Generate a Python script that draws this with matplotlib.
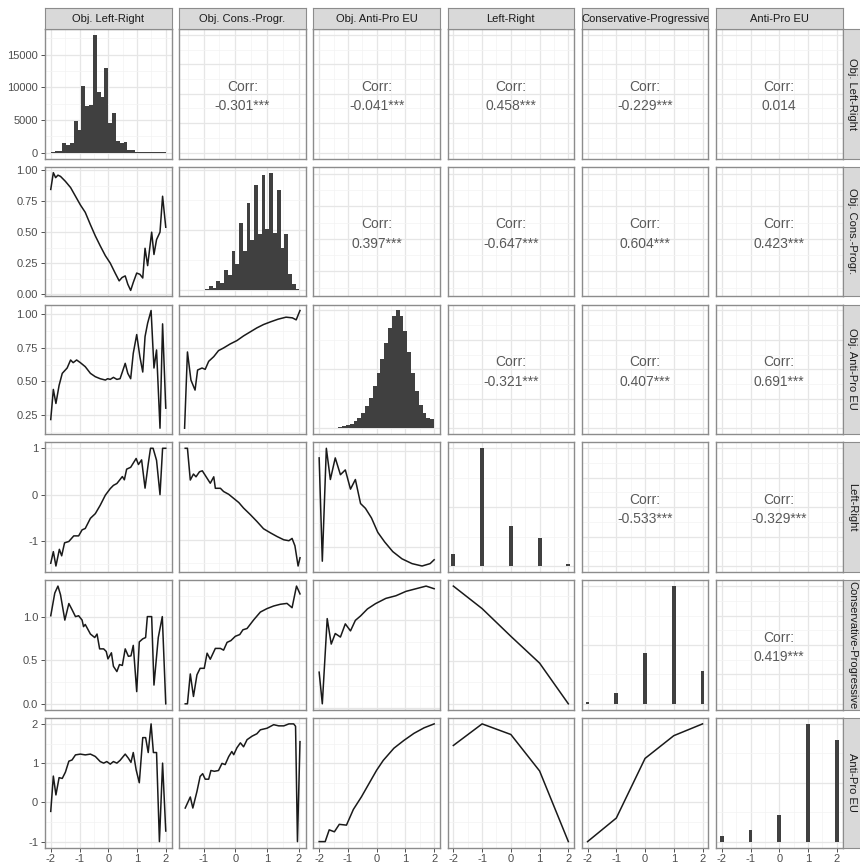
import numpy as np
import matplotlib.pyplot as plt
from matplotlib.ticker import AutoMinorLocator, MaxNLocator

plt.rcParams['font.family'] = ['Liberation Sans', 'DejaVu Sans']

variables = ['Obj. Left-Right', 'Obj. Cons.-Progr.', 'Obj. Anti-Pro EU',
             'Left-Right', 'Conservative-Progressive', 'Anti-Pro EU']

# upper triangle: correlation labels
corr_labels = {
    (0, 1): '-0.301***', (0, 2): '-0.041***', (0, 3): '0.458***', (0, 4): '-0.229***', (0, 5): '0.014',
    (1, 2): '0.397***', (1, 3): '-0.647***', (1, 4): '0.604***', (1, 5): '0.423***',
    (2, 3): '-0.321***', (2, 4): '0.407***', (2, 5): '0.691***',
    (3, 4): '-0.533***', (3, 5): '-0.329***',
    (4, 5): '0.419***',
}

# diagonal: histograms
obj_lr_counts = [100, 250, 300, 1400, 1100, 1500, 4800, 3500, 10200, 7100,
                 7300, 18000, 9200, 8500, 13000, 4500, 6000, 1800, 1400, 1600,
                 400, 350, 100, 100, 100, 100, 100, 100, 100, 100]
obj_cp_start, obj_cp_width = -1.25, 0.119
obj_cp_counts = [4, 4, 4, 10, 35, 20, 80, 60, 170, 130, 330, 220, 560, 330,
                 730, 420, 880, 470, 960, 510, 980, 480, 840, 350, 470, 140, 50, 10]
obj_eu_counts = [5, 3, 0, 3, 5, 10, 15, 25, 40, 60, 90, 130, 190, 260, 360,
                 470, 590, 720, 850, 950, 1000, 950, 830, 650, 470, 320, 200, 130, 90, 80]
levels = [-2, -1, 0, 1, 2]
lr_counts = [10, 100, 34, 24, 1.7]
cp_counts = [1.5, 9, 43, 100, 28]
eu_counts = [4.8, 9.9, 22.6, 100, 86]

# lower triangle: conditional mean lines
r2c1_x = [-2.0, -1.91, -1.83, -1.75, -1.66, -1.49, -1.31, -1.14, -0.97, -0.80, -0.62, -0.45, -0.28,
          -0.10, 0.07, 0.24, 0.38, 0.48, 0.59, 0.68, 0.78, 0.87, 0.99, 1.10, 1.20, 1.28, 1.37,
          1.51, 1.59, 1.68, 1.80, 1.89, 2.0]
r2c1_y = [0.845, 0.98, 0.94, 0.96, 0.95, 0.91, 0.86, 0.79, 0.72, 0.66, 0.56, 0.47, 0.39,
          0.31, 0.25, 0.17, 0.107, 0.134, 0.147, 0.08, 0.03, 0.094, 0.17, 0.16, 0.13, 0.37, 0.23,
          0.50, 0.32, 0.44, 0.50, 0.79, 0.54]

r3c1_x = [-2.0, -1.91, -1.82, -1.71, -1.60, -1.43, -1.31, -1.22, -1.10, -0.97, -0.80, -0.62,
          -0.45, -0.28, -0.10, -0.02, 0.07, 0.18, 0.30, 0.41, 0.49, 0.59, 0.68, 0.78, 0.87,
          0.99, 1.10, 1.20, 1.28, 1.37, 1.49, 1.59, 1.68, 1.80, 1.89, 2.0]
r3c1_y = [0.215, 0.44, 0.335, 0.47, 0.56, 0.60, 0.66, 0.64, 0.66, 0.64, 0.61, 0.56,
          0.535, 0.52, 0.51, 0.52, 0.515, 0.53, 0.515, 0.52, 0.57, 0.635, 0.56, 0.52, 0.71,
          0.85, 0.685, 0.57, 0.835, 0.935, 1.03, 0.6, 0.735, 0.15, 0.93, 0.30]

r4c1_x = [-2.0, -1.91, -1.82, -1.70, -1.62, -1.52, -1.37, -1.20, -1.03, -0.91, -0.80, -0.62,
          -0.45, -0.28, -0.10, 0.07, 0.18, 0.30, 0.39, 0.49, 0.56, 0.64, 0.78, 0.87, 0.97,
          1.05, 1.16, 1.28, 1.39, 1.47, 1.56, 1.68, 1.80, 1.89, 2.0]
r4c1_y = [-1.48, -1.23, -1.54, -1.18, -1.32, -1.04, -1.01, -0.89, -0.89, -0.76, -0.73, -0.51,
          -0.41, -0.23, -0.01, 0.13, 0.2, 0.24, 0.31, 0.39, 0.32, 0.55, 0.59, 0.68, 0.78,
          0.65, 0.75, 0.14, 0.66, 1.0, 1.0, 0.74, 0.0, 1.0, 1.0]

r5c1_x = [-2.0, -1.86, -1.75, -1.66, -1.51, -1.37, -1.26, -1.14, -1.03, -0.91, -0.86, -0.80,
          -0.62, -0.47, -0.39, -0.30, -0.16, -0.07, -0.01, 0.11, 0.18, 0.30, 0.39, 0.49, 0.59,
          0.70, 0.79, 0.87, 0.99, 1.08, 1.20, 1.30, 1.36, 1.51, 1.59, 1.74, 1.88, 2.0]
r5c1_y = [1.01, 1.27, 1.35, 1.25, 0.96, 1.15, 1.08, 1.0, 1.01, 0.96, 0.885, 0.91,
          0.80, 0.76, 0.80, 0.63, 0.63, 0.60, 0.515, 0.585, 0.43, 0.37, 0.45, 0.44, 0.63,
          0.545, 0.55, 0.67, 0.14, 0.71, 0.745, 0.76, 1.0, 1.0, 0.215, 0.76, 1.0, 0.0]

r6c1_x = [-2.0, -1.91, -1.82, -1.71, -1.60, -1.49, -1.37, -1.26, -1.14, -0.97, -0.80, -0.62,
          -0.45, -0.28, -0.16, -0.05, 0.07, 0.18, 0.30, 0.41, 0.59, 0.70, 0.79, 0.87, 0.97,
          1.08, 1.20, 1.30, 1.39, 1.49, 1.57, 1.68, 1.78, 1.89, 2.0]
r6c1_y = [-0.23, 0.67, 0.19, 0.63, 0.61, 0.77, 1.05, 1.08, 1.21, 1.23, 1.21, 1.23,
          1.17, 1.04, 1.0, 1.04, 0.975, 1.04, 1.0, 1.07, 1.23, 1.125, 1.02, 1.27, 0.83,
          0.5, 1.65, 1.65, 1.27, 2.0, 1.27, 1.27, -1.0, 1.0, -0.73]

r3c2_x = [-1.60, -1.51, -1.40, -1.27, -1.19, -1.05, -0.95, -0.84, -0.68, -0.53, -0.37, -0.16,
          0.05, 0.26, 0.47, 0.68, 0.89, 1.11, 1.35, 1.6, 1.8, 1.92, 2.04]
r3c2_y = [0.15, 0.72, 0.51, 0.435, 0.585, 0.60, 0.59, 0.65, 0.685, 0.73, 0.75, 0.78,
          0.805, 0.84, 0.87, 0.90, 0.925, 0.945, 0.965, 0.98, 0.975, 0.96, 1.03]

r4c2_x = [-1.58, -1.51, -1.42, -1.32, -1.24, -1.13, -1.04, -0.92, -0.79, -0.68, -0.63, -0.47,
          -0.37, -0.21, -0.05, 0.11, 0.26, 0.47, 0.68, 0.89, 1.11, 1.32, 1.53, 1.69, 1.79,
          1.88, 1.98, 2.04]
r4c2_y = [1.0, 1.0, 0.31, 0.44, 0.38, 0.49, 0.51, 0.38, 0.24, 0.38, 0.13, 0.13,
          0.06, 0.0, -0.09, -0.18, -0.30, -0.44, -0.59, -0.75, -0.84, -0.92, -0.99, -1.01, -0.96,
          -1.12, -1.56, -1.38]

r5c2_x = [-1.58, -1.51, -1.42, -1.32, -1.21, -1.11, -0.98, -0.89, -0.79, -0.63, -0.47, -0.37,
          -0.26, -0.14, 0.0, 0.14, 0.24, 0.37, 0.58, 0.79, 1.00, 1.21, 1.42, 1.63, 1.79,
          1.93, 2.04]
r5c2_y = [0.0, 0.0, 0.345, 0.085, 0.335, 0.41, 0.41, 0.585, 0.515, 0.64, 0.64, 0.62,
          0.71, 0.73, 0.78, 0.80, 0.855, 0.87, 0.97, 1.06, 1.10, 1.13, 1.15, 1.16, 1.11,
          1.36, 1.27]

r6c2_x = [-1.58, -1.42, -1.34, -1.21, -1.11, -1.03, -0.95, -0.84, -0.77, -0.66, -0.53, -0.42,
          -0.32, -0.21, -0.11, -0.05, 0.05, 0.16, 0.26, 0.37, 0.53, 0.68, 0.79, 1.0, 1.21,
          1.37, 1.53, 1.69, 1.84, 1.90, 1.96, 2.04]
r6c2_y = [-0.15, 0.13, -0.15, 0.27, 0.65, 0.72, 0.58, 0.58, 0.8, 0.78, 0.80, 0.98,
          0.95, 1.15, 1.28, 1.2, 1.375, 1.5, 1.4, 1.58, 1.67, 1.73, 1.83, 1.87, 1.96,
          1.93, 1.93, 1.98, 1.98, 1.92, -1.0, 1.53]

r4c3_x = [-2.0, -1.89, -1.75, -1.61, -1.44, -1.26, -1.09, -0.91, -0.74, -0.56, -0.39, -0.18,
          0.04, 0.28, 0.56, 0.88, 1.23, 1.58, 1.86, 2.0]
r4c3_y = [0.85, -1.3, 1.05, 0.4, 0.85, 0.5, 0.6, 0.2, 0.4, -0.1, -0.2, -0.4,
          -0.7, -0.9, -1.1, -1.25, -1.35, -1.4, -1.35, -1.27]

r5c3_x = [-2.0, -1.89, -1.72, -1.58, -1.44, -1.26, -1.09, -0.91, -0.74, -0.56, -0.32, -0.04,
          0.32, 0.67, 1.02, 1.37, 1.72, 2.0]
r5c3_y = [0.41, 0.05, 1.02, 0.73, 0.85, 0.81, 0.96, 0.88, 1.0, 1.05, 1.13, 1.19,
          1.25, 1.28, 1.33, 1.36, 1.39, 1.36]

r6c3_x = [-2.0, -1.79, -1.65, -1.47, -1.3, -1.05, -0.81, -0.53, -0.25, 0.0, 0.23, 0.6,
          0.95, 1.3, 1.65, 2.0]
r6c3_y = [-1.0, -1.0, -0.7, -0.75, -0.56, -0.58, -0.18, 0.14, 0.5, 0.82, 1.07, 1.38,
          1.58, 1.76, 1.9, 2.0]

r5c4_y = [1.36, 1.10, 0.78, 0.47, 0.0]
r6c4_y = [1.45, 2.0, 1.73, 0.8, -1.0]
r6c5_y = [-1.0, -0.4, 1.12, 1.7, 2.0]

lines = {
    (1, 0): (r2c1_x, r2c1_y), (2, 0): (r3c1_x, r3c1_y), (3, 0): (r4c1_x, r4c1_y),
    (4, 0): (r5c1_x, r5c1_y), (5, 0): (r6c1_x, r6c1_y),
    (2, 1): (r3c2_x, r3c2_y), (3, 1): (r4c2_x, r4c2_y), (4, 1): (r5c2_x, r5c2_y),
    (5, 1): (r6c2_x, r6c2_y),
    (3, 2): (r4c3_x, r4c3_y), (4, 2): (r5c3_x, r5c3_y), (5, 2): (r6c3_x, r6c3_y),
    (4, 3): (levels, r5c4_y), (5, 3): (levels, r6c4_y), (5, 4): (levels, r6c5_y),
}

col_xlim = [(-2.2, 2.2), (-1.77, 2.22), (-2.2, 2.2), (-2.2, 2.2), (-2.2, 2.2), (-2.2, 2.2)]
var_ticks = [[-2, -1, 0, 1, 2], [-1, 0, 1, 2], [-2, -1, 0, 1, 2],
             [-2, -1, 0, 1, 2], [-2, -1, 0, 1, 2], [-2, -1, 0, 1, 2]]
row_yticks = [([0, 5000, 10000, 15000], ['0', '5000', '10000', '15000']),
              ([0, 0.25, 0.5, 0.75, 1.0], ['0.00', '0.25', '0.50', '0.75', '1.00']),
              ([0.25, 0.5, 0.75, 1.0], ['0.25', '0.50', '0.75', '1.00']),
              ([-1, 0, 1], ['-1', '0', '1']),
              ([0.0, 0.5, 1.0], ['0.0', '0.5', '1.0']),
              ([-1, 0, 1, 2], ['-1', '0', '1', '2'])]

W, H = 860, 868
left0, col_pitch, pw = 45, 134.2, 126.5
top0, row_pitch, ph = 29, 137.8, 129.5
border = '#8c8c8c'
dark = '#404040'

fig = plt.figure(figsize=(W / 100, H / 100), dpi=100)


def rect(x0, y0, w, h):
    return [x0 / W, 1 - (y0 + h) / H, w / W, h / H]


def style(ax, i, j):
    for s in ax.spines.values():
        s.set_color(border)
        s.set_linewidth(1.0)
    ax.xaxis.set_minor_locator(AutoMinorLocator(2))
    ax.yaxis.set_minor_locator(AutoMinorLocator(2))
    ax.grid(which='major', color='#e6e6e6', lw=0.9)
    ax.grid(which='minor', color='#f3f3f3', lw=0.5)
    ax.set_axisbelow(True)
    ax.tick_params(which='both', length=0, labelleft=False, labelbottom=False)
    if j == 0:
        ax.tick_params(axis='y', which='major', length=3, width=0.6, color='#333333',
                       labelleft=True, labelsize=8, labelcolor='#4d4d4d', pad=2)
    if i == 5:
        ax.tick_params(axis='x', which='major', length=3, width=0.6, color='#333333',
                       labelbottom=True, labelsize=8, labelcolor='#4d4d4d', pad=1.5)


for i in range(6):
    for j in range(6):
        x0 = left0 + j * col_pitch
        y0 = top0 + i * row_pitch
        ax = fig.add_axes(rect(x0, y0, pw, ph))
        ax.set_xlim(col_xlim[j])
        ax.set_xticks(var_ticks[j])
        if i < j:
            ax.set_ylim(col_xlim[i])
            ax.set_yticks(var_ticks[i])
            ax.text(0.5, 0.48, 'Corr:\n' + corr_labels[(i, j)], transform=ax.transAxes,
                    ha='center', va='center', fontsize=10, color='#595959', linespacing=1.5)
        elif i == j:
            if i == 0:
                edges = np.linspace(-2, 2, len(obj_lr_counts) + 1)
                ax.bar(edges[:-1], obj_lr_counts, width=edges[1] - edges[0], align='edge',
                       color=dark, linewidth=0)
                top = max(obj_lr_counts)
            elif i == 1:
                centers = obj_cp_start + obj_cp_width * np.arange(len(obj_cp_counts))
                ax.bar(centers, obj_cp_counts, width=obj_cp_width, color=dark, linewidth=0)
                top = max(obj_cp_counts)
            elif i == 2:
                edges = np.linspace(-2, 2, len(obj_eu_counts) + 1)
                ax.bar(edges[:-1], obj_eu_counts, width=edges[1] - edges[0], align='edge',
                       color=dark, linewidth=0)
                top = max(obj_eu_counts)
            else:
                counts = [lr_counts, cp_counts, eu_counts][i - 3]
                ax.bar(levels, counts, width=0.135, color=dark, linewidth=0)
                top = max(counts)
            ax.set_ylim(-0.05 * top, 1.05 * top)
            if i == 0:
                ax.set_yticks(row_yticks[0][0])
                ax.set_yticklabels(row_yticks[0][1])
            else:
                ax.yaxis.set_major_locator(MaxNLocator(nbins=4, steps=[1, 2, 2.5, 5, 10]))
        else:
            xs, ys = lines[(i, j)]
            ax.plot(xs, ys, color='#1a1a1a', lw=1.1)
            ax.set_xlim(col_xlim[j])
            ax.margins(y=0.05)
            if j == 0:
                ax.set_yticks(row_yticks[i][0])
                ax.set_yticklabels(row_yticks[i][1])
            else:
                ax.yaxis.set_major_locator(MaxNLocator(nbins=4, steps=[1, 2, 2.5, 5, 10]))
        if i == 5:
            ax.set_xticklabels([str(t) for t in var_ticks[j]])
        style(ax, i, j)

# strips
for j in range(6):
    x0 = left0 + j * col_pitch
    sax = fig.add_axes(rect(x0, 8, pw, 21))
    sax.set_facecolor('#d9d9d9')
    sax.set_xticks([]); sax.set_yticks([])
    for s in sax.spines.values():
        s.set_color(border)
    sax.text(0.5, 0.5, variables[j], transform=sax.transAxes, ha='center', va='center',
             fontsize=8, color='#1a1a1a', clip_on=True)

for i in range(6):
    y0 = top0 + i * row_pitch
    sax = fig.add_axes(rect(left0 + 5 * col_pitch + pw, y0, 21, ph))
    sax.set_facecolor('#d9d9d9')
    sax.set_xticks([]); sax.set_yticks([])
    for s in sax.spines.values():
        s.set_color(border)
    sax.text(0.45, 0.5, variables[i], transform=sax.transAxes, ha='center', va='center',
             fontsize=8, color='#1a1a1a', rotation=-90, clip_on=True)

fig.savefig('out.png', dpi=100)
